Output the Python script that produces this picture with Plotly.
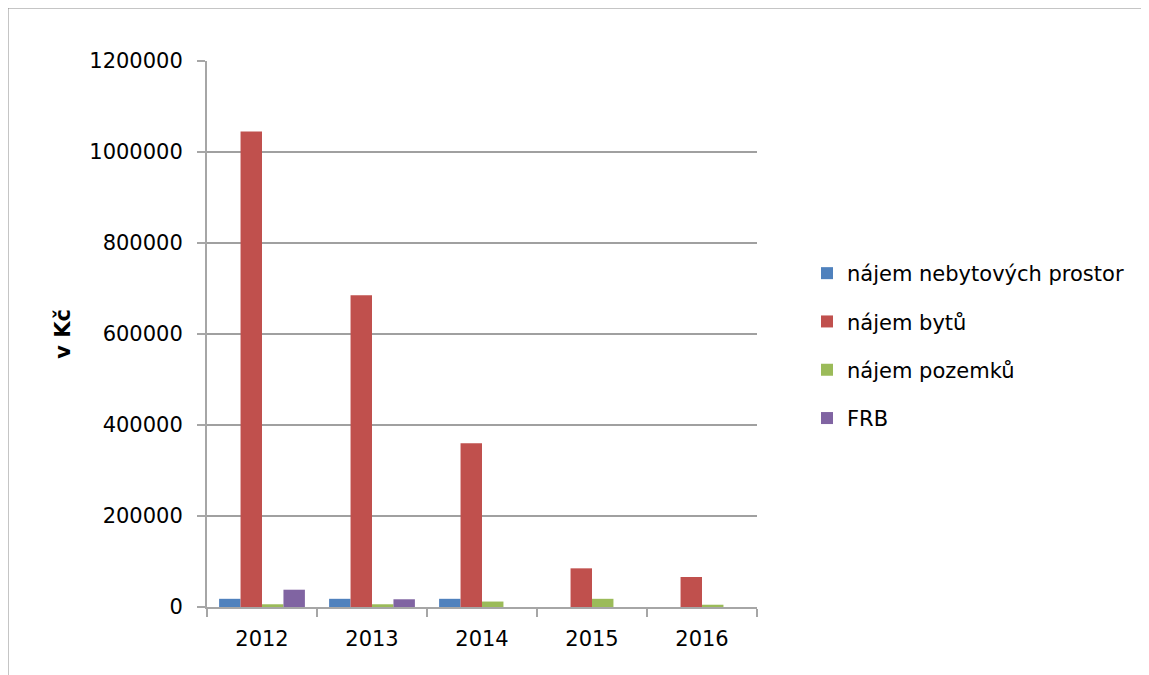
import plotly.graph_objects as go

years = ["2012", "2013", "2014", "2015", "2016"]
series_names = ["nájem nebytových prostor", "nájem bytů", "nájem pozemků", "FRB"]
nebytove = [18000, 18000, 18000, 0, 0]
byty = [1045000, 685000, 360000, 85000, 66000]
pozemky = [6000, 6000, 12000, 18000, 5000]
frb = [38000, 17000, 0, 0, 0]
colors = ["#4F81BD", "#C0504D", "#9BBB59", "#8064A2"]
y_ticks = [0, 200000, 400000, 600000, 800000, 1000000, 1200000]

OFF = 8  # page body margin
W, H = 1149, 675
L, R, T, B = 207 - OFF, W - (757 - OFF), 61 - OFF, H - (607 - OFF)
pw = W - L - R
ph = H - T - B
font = "DejaVu Sans"
fs = 21

fig = go.Figure()
for i, (name, vals) in enumerate(zip(series_names, [nebytove, byty, pozemky, frb])):
    fig.add_trace(go.Bar(
        x=years, y=vals, name=name, legendgroup=str(i),
        marker=dict(color=colors[i], line=dict(width=0)),
    ))

def px_x(p):
    return (p - OFF - L) / pw

def px_y(p):
    return (H - B - (p - OFF)) / ph

fig.update_layout(
    width=W, height=H,
    margin=dict(l=L, r=R, t=T, b=B),
    paper_bgcolor="white", plot_bgcolor="white",
    barmode="group", bargap=0.22, bargroupgap=0.0,
    font=dict(family=font, size=fs, color="#000000"),
    showlegend=True,
    legend=dict(
        x=px_x(807), y=px_y(253), xanchor="left", yanchor="top",
        font=dict(size=fs, color="#000000"), tracegroupgap=18,
        bgcolor="rgba(0,0,0,0)", itemwidth=30,
    ),
    xaxis=dict(
        showgrid=False, showline=True, linecolor="#A6A6A6", linewidth=2,
        ticks="outside", tickson="boundaries", ticklen=8, tickcolor="#A6A6A6", tickwidth=2,
        tickfont=dict(size=fs), fixedrange=True, ticklabelstandoff=12,
    ),
    yaxis=dict(
        range=[0, 1200000], tickvals=y_ticks, ticktext=[str(v) for v in y_ticks],
        showgrid=True, gridcolor="#A0A0A0", gridwidth=1.5,
        showline=True, linecolor="#A6A6A6", linewidth=2,
        ticks="outside", ticklen=8, tickcolor="#A6A6A6", tickwidth=2,
        tickfont=dict(size=fs), zeroline=False, ticklabelstandoff=10,
        title=dict(text="<b>v Kč</b>", font=dict(size=fs), standoff=13),
    ),
    shapes=[dict(
        type="rect", xref="paper", yref="paper",
        x0=px_x(8), x1=px_x(1170), y0=px_y(700), y1=px_y(8),
        line=dict(color="#8C8C8C", width=1), fillcolor="rgba(0,0,0,0)", layer="below",
    )],
)

fig.write_html("out.html")
